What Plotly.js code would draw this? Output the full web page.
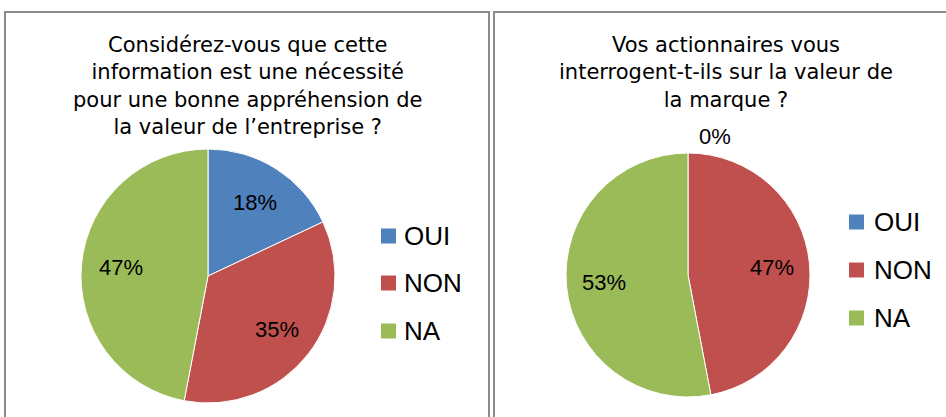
<!DOCTYPE html>
<html><head><meta charset="utf-8">
<script src="https://cdn.plot.ly/plotly-3.0.1.min.js"></script>
<style>html,body{margin:0;padding:0;background:#fff}#chart{width:946px;height:417px}</style>
</head><body><div id="chart"></div>
<script>
var labels = ['OUI', 'NON', 'NA'];
var colors = ['#4F81BD', '#C0504D', '#9BBB59'];
var valuesLeft = [18, 35, 47];
var valuesRight = [0, 47, 53];
var titleLeft = 'Considérez-vous que cette<br>information est une nécessité<br>pour une bonne appréhension de<br>la valeur de l’entreprise ?';
var titleRight = 'Vos actionnaires vous<br>interrogent-t-ils sur la valeur de<br>la marque ?';

var W = 946, H = 417;
function px(x){ return x / W; }
function py(y){ return 1 - y / H; }

var pctFont = {family: 'Liberation Sans, Arial, sans-serif', size: 22, color: '#000'};

var pies = [
  {values: valuesLeft, cx: 208, cy: 276, r: 127},
  {values: valuesRight, cx: 688, cy: 275, r: 122}
];

var data = pies.map(function(p){
  return {
    type: 'pie', labels: labels, values: p.values, sort: false, direction: 'clockwise', rotation: 0,
    marker: {colors: colors, line: {color: '#ffffff', width: 1}},
    textinfo: 'none', showlegend: false, hoverinfo: 'label+percent',
    domain: {x: [px(p.cx - p.r), px(p.cx + p.r)], y: [py(p.cy + p.r), py(p.cy - p.r)]}
  };
});

var shapes = [
  {type: 'rect', xref: 'paper', yref: 'paper', x0: px(5), x1: px(489), y0: py(440), y1: py(12), line: {color: '#8c8c8c', width: 2}},
  {type: 'rect', xref: 'paper', yref: 'paper', x0: px(494), x1: px(970), y0: py(440), y1: py(12), line: {color: '#8c8c8c', width: 2}}
];
var titleFont = {family: 'DejaVu Sans, Verdana, sans-serif', size: 21, color: '#000'};
var annotations = [
  {text: titleLeft, xref: 'paper', yref: 'paper', x: px(247), y: py(31), xanchor: 'center', yanchor: 'top', showarrow: false, font: titleFont},
  {text: titleRight, xref: 'paper', yref: 'paper', x: px(726), y: py(31), xanchor: 'center', yanchor: 'top', showarrow: false, font: titleFont}
];

// percentage labels placed along each slice's bisector (derived from the values)
pies.forEach(function(p){
  var total = p.values.reduce(function(a,b){return a+b;}, 0);
  var cum = 0;
  p.values.forEach(function(v){
    var mid = (cum + v / 2) / total * 2 * Math.PI;
    cum += v;
    var pct = Math.round(100 * v / total) + '%';
    var d = v === 0 ? p.r + 16 : p.r * 0.69;
    var x = p.cx + Math.sin(mid) * d, y = p.cy - Math.cos(mid) * d;
    annotations.push({text: pct, xref: 'paper', yref: 'paper', x: px(x), y: py(y), xanchor: 'center', yanchor: 'middle',
      xshift: v === 0 ? 27 : 0, showarrow: false, font: pctFont});
  });
});

// legends
var legends = [
  {sqX: 381, textX: 402, ys: [236, 283, 331]},
  {sqX: 849, textX: 872, ys: [222, 270, 318]}
];
legends.forEach(function(lg){
  labels.forEach(function(lab, i){
    var yc = lg.ys[i];
    shapes.push({type: 'rect', xref: 'paper', yref: 'paper', x0: px(lg.sqX), x1: px(lg.sqX + 15), y0: py(yc + 7.5), y1: py(yc - 7.5),
      fillcolor: colors[i], line: {width: 0}});
    annotations.push({text: lab, xref: 'paper', yref: 'paper', x: px(lg.textX), y: py(yc), xanchor: 'left', yanchor: 'middle', showarrow: false,
      font: {family: 'Liberation Sans, Arial, sans-serif', size: 26, color: '#000'}});
  });
});

var layout = {
  width: W, height: H, margin: {l: 0, r: 0, t: 0, b: 0},
  paper_bgcolor: '#ffffff', plot_bgcolor: '#ffffff', showlegend: false,
  shapes: shapes, annotations: annotations
};
Plotly.newPlot('chart', data, layout, {displayModeBar: false, staticPlot: true});
</script></body></html>
